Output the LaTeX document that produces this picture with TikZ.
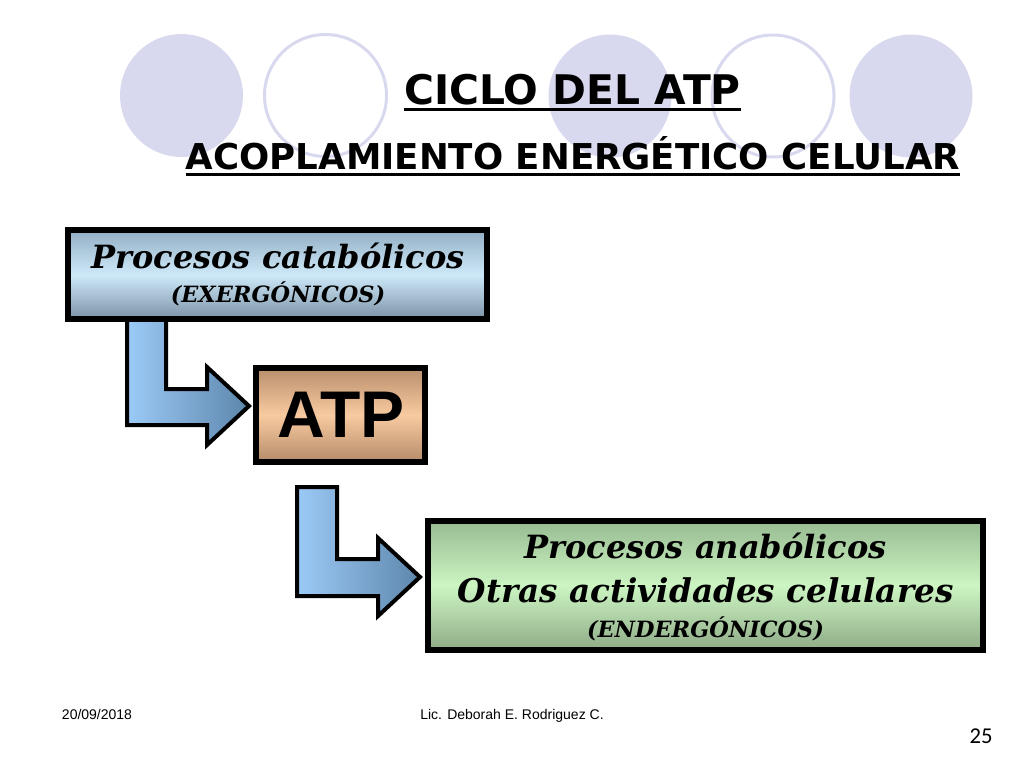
\documentclass[tikz,border=0pt]{standalone}
\usepackage{fontspec}
\setmainfont{DejaVu Serif}
\newfontfamily\titlefont{DejaVu Sans}
\newfontfamily\arialfont{Liberation Sans}
\newfontfamily\numfont{Carlito}

\definecolor{lavender}{HTML}{D8D8EE}
\definecolor{catatop}{HTML}{93AEC4}
\definecolor{catamid}{HTML}{CDE9F8}
\definecolor{catabot}{HTML}{7D93A8}
\definecolor{atptop}{HTML}{B88E6C}
\definecolor{atpmid}{HTML}{F8CAA0}
\definecolor{atpbot}{HTML}{B58C6A}
\definecolor{anatop}{HTML}{98BB92}
\definecolor{anamid}{HTML}{CCF5C2}
\definecolor{anabot}{HTML}{8FAB88}
\definecolor{arrowleft}{HTML}{9CCAF7}
\definecolor{arrowright}{HTML}{5D86AB}

\begin{document}
\begin{tikzpicture}[x=0.75pt,y=-0.75pt,
    disc/.style={fill=lavender},
    ring/.style={draw=lavender,line width=2.25pt},
    title/.style={inner sep=0pt,anchor=base,font=\titlefont\bfseries},
    uline/.style={line width=2.4pt},
    box/.style={draw,line width=4.5pt,inner sep=0pt},
    boxtxt/.style={inner sep=0pt,anchor=base,font=\bfseries\itshape\fontsize{24pt}{28pt}\selectfont},
    subtxt/.style={inner sep=0pt,anchor=base,font=\bfseries\itshape\fontsize{16.8pt}{19pt}\selectfont},
    bent/.style={draw,line width=3pt,miter limit=4,left color=arrowleft,right color=arrowright},
    foot/.style={inner sep=0pt,anchor=base,font=\arialfont\fontsize{10.5pt}{12pt}\selectfont}]

      % Bounding box
      \path (0,0) rectangle (1024,768);

      % circles behind the title
      \fill[disc] (181.5,95.5) circle (46.1pt);
      \draw[ring] (325.5,95.5) circle (45.75pt);
      \fill[disc] (610,96) circle (46.1pt);
      \draw[ring] (773,96) circle (45.75pt);
      \fill[disc] (911,96) circle (46.1pt);

      \node[title,font=\titlefont\bfseries\fontsize{30.6pt}{34pt}\selectfont] (ciclo) at (572.5,104) {CICLO DEL ATP};
      \node[title,font=\titlefont\bfseries\fontsize{26.7pt}{30pt}\selectfont] (acop) at (573,169) {ACOPLAMIENTO ENERGÉTICO CELULAR};
      \draw[uline] ([yshift=-4pt]ciclo.base west) -- ([yshift=-4pt]ciclo.base east);
      \draw[uline] ([yshift=-4pt]acop.base west) -- ([yshift=-4pt]acop.base east);

      % bent arrows
      \draw[bent,shift={(127,318)}] (0,0) -- (39,0) -- (39,71) -- (80,71) -- (80,49) -- (122,88) -- (80,127) -- (80,107) -- (0,107) -- cycle;
      \draw[bent,shift={(297,487)}] (0,0) -- (40,0) -- (40,72) -- (81,72) -- (81,51) -- (123,90) -- (81,129) -- (81,109) -- (0,109) -- cycle;

      % boxes
      \node[box,minimum width=314.25pt,minimum height=66.75pt,top color=catatop,bottom color=catabot,middle color=catamid] (catab) at (277.5,274.5) {};
      \node[box,minimum width=126.75pt,minimum height=70.5pt,top color=atptop,bottom color=atpbot,middle color=atpmid] (atp) at (340.5,415) {};
      \node[box,minimum width=416.25pt,minimum height=96.75pt,top color=anatop,bottom color=anabot,middle color=anamid] (anab) at (705.5,585.5) {};

      \node[boxtxt] (catabtxt) at (278,268) {Procesos catabólicos};
      \node[subtxt] (exer) at (278,302) {(EXERGÓNICOS)};

      \node[inner sep=0pt,anchor=base,font=\arialfont\bfseries\fontsize{49.5pt}{56pt}\selectfont] (atptxt) at (341,437) {ATP};

      \node[boxtxt] (anabtxt) at (705.5,558) {Procesos anabólicos};
      \node[boxtxt,font=\bfseries\itshape\fontsize{24.5pt}{28pt}\selectfont] (otras) at (705.5,602) {Otras actividades celulares};
      \node[subtxt] (ender) at (705.5,637) {(ENDERGÓNICOS)};

      % footer
      \node[foot] (fecha) at (97,719.5) {20/09/2018};
      \node[foot] (autor) at (512,719.5) {Lic. Deborah E. Rodriguez C.};
      \node[inner sep=0pt,anchor=base,font=\numfont\fontsize{17pt}{20pt}\selectfont] (pagina) at (981,743) {25};
\end{tikzpicture}
\end{document}
